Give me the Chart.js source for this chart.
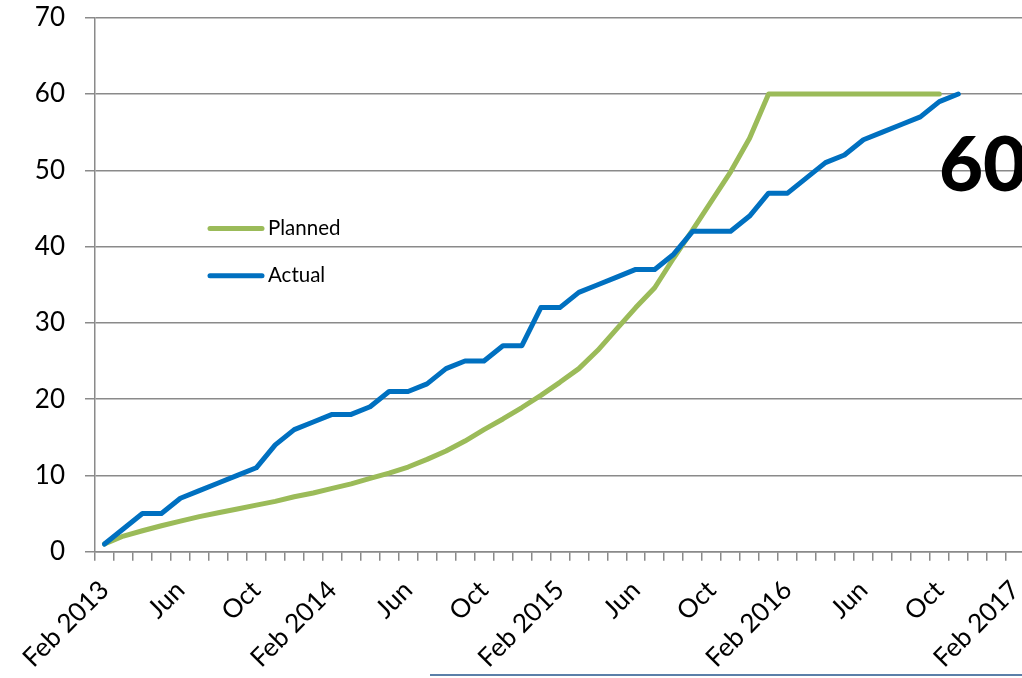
<!DOCTYPE html>
<html>
<head>
<meta charset="utf-8">
<script src="https://cdn.jsdelivr.net/npm/chart.js@4/dist/chart.umd.min.js"></script>
<style>
  html, body { margin: 0; padding: 0; background: #ffffff; overflow: hidden; }
  #wrap { position: relative; width: 1022px; height: 678px; overflow: hidden; }
  #box { position: absolute; width: 1030px; height: 678px; left: 0; top: 0; }
  #big { position: absolute; left: 939px; top: 124px; font-family: Lato, sans-serif; font-weight: 900; font-size: 76px; line-height: 1; color: #000; }
  #frame { position: absolute; left: 430px; top: 674px; width: 600px; height: 0; border-top: 2px solid #5b7fa9; }
</style>
</head>
<body>
<div id="wrap">
  <div id="box"><canvas id="c" width="1030" height="678"></canvas></div>
  <div id="big">60</div>
  <div id="frame"></div>
</div>
<script>
// Monthly categories (Feb 2013 .. Feb 2017)
const months = [
  'Feb 2013','Mar 2013','Apr 2013','May 2013','Jun 2013','Jul 2013','Aug 2013','Sep 2013','Oct 2013','Nov 2013','Dec 2013','Jan 2014',
  'Feb 2014','Mar 2014','Apr 2014','May 2014','Jun 2014','Jul 2014','Aug 2014','Sep 2014','Oct 2014','Nov 2014','Dec 2014','Jan 2015',
  'Feb 2015','Mar 2015','Apr 2015','May 2015','Jun 2015','Jul 2015','Aug 2015','Sep 2015','Oct 2015','Nov 2015','Dec 2015','Jan 2016',
  'Feb 2016','Mar 2016','Apr 2016','May 2016','Jun 2016','Jul 2016','Aug 2016','Sep 2016','Oct 2016','Nov 2016','Dec 2016','Jan 2017',
  'Feb 2017'
];
// Axis tick labels shown every 4 months
const tickLabels = ['Feb 2013','Jun','Oct','Feb 2014','Jun','Oct','Feb 2015','Jun','Oct','Feb 2016','Jun','Oct','Feb 2017'];

const plannedValues = [1,2.05,2.75,3.4,4.0,4.6,5.1,5.6,6.1,6.6,7.2,7.7,8.3,8.9,9.6,10.3,11.1,12.1,13.2,14.5,
  16.0,17.4,18.9,20.5,22.2,24.0,26.4,29.2,32.0,34.6,38.5,42.2,46.0,49.8,54.2,60,60,60,60,60,60,60,60,60,60];
const actualValues = [1,3,5,5,7,8,9,10,11,14,16,17,18,18,19,21,21,22,24,25,25,27,27,32,32,34,35,36,37,37,
  39,42,42,42,44,47,47,49,51,52,54,55,56,57,59,60];

const GRID = '#8a8a8a';
const FONT = 'Lato, "Open Sans", sans-serif';

const legendPlugin = {
  id: 'insideLegend',
  afterDatasetsDraw(chart) {
    const ctx = chart.ctx;
    const items = [{ds: chart.data.datasets[0], y: 228.5}, {ds: chart.data.datasets[1], y: 275.8}];
    ctx.save();
    items.forEach(it => {
      ctx.strokeStyle = it.ds.borderColor;
      ctx.lineWidth = 5;
      ctx.lineCap = 'round';
      ctx.beginPath();
      ctx.moveTo(210, it.y);
      ctx.lineTo(262, it.y);
      ctx.stroke();
      ctx.fillStyle = '#000';
      ctx.font = '20.5px ' + FONT;
      ctx.textAlign = 'left';
      ctx.textBaseline = 'middle';
      ctx.fillText(it.ds.label, 268, it.y);
    });
    ctx.restore();
  }
};

new Chart(document.getElementById('c'), {
  type: 'line',
  data: {
    labels: months,
    datasets: [
      { label: 'Planned', data: plannedValues, borderColor: '#9bbb59', backgroundColor: '#9bbb59',
        borderWidth: 5, pointRadius: 0, tension: 0, borderCapStyle: 'round', borderJoinStyle: 'round', order: 1 },
      { label: 'Actual', data: actualValues, borderColor: '#0070c0', backgroundColor: '#0070c0',
        borderWidth: 5, pointRadius: 0, tension: 0, borderCapStyle: 'round', borderJoinStyle: 'round', order: 0 }
    ]
  },
  options: {
    responsive: false,
    animation: false,
    devicePixelRatio: 1,
    layout: { padding: { top: 17.7, right: 5.3, left: 0, bottom: 0 } },
    plugins: { legend: { display: false }, tooltip: { enabled: false } },
    scales: {
      x: {
        type: 'category',
        offset: true,
        grid: { offset: true, drawOnChartArea: false, drawTicks: true, tickLength: 9, color: GRID, lineWidth: 1.5 },
        border: { color: GRID, width: 1.5 },
        ticks: {
          autoSkip: false, maxRotation: 45, minRotation: 45, padding: 14, color: '#000',
          font: { family: FONT, size: 26 },
          callback: (v, i) => (i % 4 === 0 ? tickLabels[i / 4] : '')
        },
        afterFit: (s) => { s.height = 678 - 551.7; s.paddingLeft = 0; s.paddingRight = 0; }
      },
      y: {
        min: 0, max: 70,
        grid: { color: GRID, lineWidth: 1.5, drawTicks: true, tickLength: 10 },
        border: { color: GRID, width: 1.5 },
        ticks: { stepSize: 10, padding: 20, color: '#000', font: { family: FONT, size: 26 } },
        afterFit: (s) => { s.width = 95; s.paddingTop = 0; s.paddingBottom = 0; }
      }
    }
  },
  plugins: [legendPlugin]
});
</script>
</body>
</html>
